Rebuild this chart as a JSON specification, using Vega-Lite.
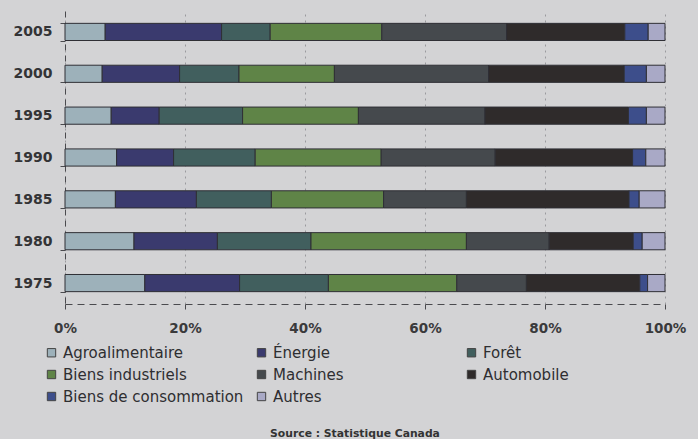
{
  "$schema": "https://vega.github.io/schema/vega-lite/v6.json",
  "width": 600,
  "height": 293,
  "autosize": {"type": "none"},
  "padding": {"left": 65, "top": 11, "right": 33, "bottom": 135},
  "background": "#d3d3d5",
  "config": {
    "view": {"stroke": null},
    "font": "DejaVu Sans"
  },
  "title": {
    "text": "Source : Statistique Canada",
    "orient": "bottom",
    "anchor": "middle",
    "fontSize": 10.8,
    "fontWeight": "bold",
    "font": "DejaVu Sans",
    "color": "#333333",
    "offset": 23,
    "dx": -10
  },
  "data": {
    "values": [
      {"annee": "2005", "secteur": "Agroalimentaire", "k": 1, "part": 6.7},
      {"annee": "2005", "secteur": "Énergie", "k": 2, "part": 19.4},
      {"annee": "2005", "secteur": "Forêt", "k": 3, "part": 8.1},
      {"annee": "2005", "secteur": "Biens industriels", "k": 4, "part": 18.6},
      {"annee": "2005", "secteur": "Machines", "k": 5, "part": 20.8},
      {"annee": "2005", "secteur": "Automobile", "k": 6, "part": 19.7},
      {"annee": "2005", "secteur": "Biens de consommation", "k": 7, "part": 3.9},
      {"annee": "2005", "secteur": "Autres", "k": 8, "part": 2.8},
      {"annee": "2000", "secteur": "Agroalimentaire", "k": 1, "part": 6.2},
      {"annee": "2000", "secteur": "Énergie", "k": 2, "part": 12.9},
      {"annee": "2000", "secteur": "Forêt", "k": 3, "part": 9.9},
      {"annee": "2000", "secteur": "Biens industriels", "k": 4, "part": 15.9},
      {"annee": "2000", "secteur": "Machines", "k": 5, "part": 25.7},
      {"annee": "2000", "secteur": "Automobile", "k": 6, "part": 22.6},
      {"annee": "2000", "secteur": "Biens de consommation", "k": 7, "part": 3.7},
      {"annee": "2000", "secteur": "Autres", "k": 8, "part": 3.1},
      {"annee": "1995", "secteur": "Agroalimentaire", "k": 1, "part": 7.7},
      {"annee": "1995", "secteur": "Énergie", "k": 2, "part": 8.0},
      {"annee": "1995", "secteur": "Forêt", "k": 3, "part": 13.9},
      {"annee": "1995", "secteur": "Biens industriels", "k": 4, "part": 19.3},
      {"annee": "1995", "secteur": "Machines", "k": 5, "part": 21.1},
      {"annee": "1995", "secteur": "Automobile", "k": 6, "part": 23.9},
      {"annee": "1995", "secteur": "Biens de consommation", "k": 7, "part": 3.0},
      {"annee": "1995", "secteur": "Autres", "k": 8, "part": 3.1},
      {"annee": "1990", "secteur": "Agroalimentaire", "k": 1, "part": 8.6},
      {"annee": "1990", "secteur": "Énergie", "k": 2, "part": 9.5},
      {"annee": "1990", "secteur": "Forêt", "k": 3, "part": 13.6},
      {"annee": "1990", "secteur": "Biens industriels", "k": 4, "part": 21.0},
      {"annee": "1990", "secteur": "Machines", "k": 5, "part": 19.0},
      {"annee": "1990", "secteur": "Automobile", "k": 6, "part": 22.9},
      {"annee": "1990", "secteur": "Biens de consommation", "k": 7, "part": 2.2},
      {"annee": "1990", "secteur": "Autres", "k": 8, "part": 3.2},
      {"annee": "1985", "secteur": "Agroalimentaire", "k": 1, "part": 8.4},
      {"annee": "1985", "secteur": "Énergie", "k": 2, "part": 13.5},
      {"annee": "1985", "secteur": "Forêt", "k": 3, "part": 12.5},
      {"annee": "1985", "secteur": "Biens industriels", "k": 4, "part": 18.7},
      {"annee": "1985", "secteur": "Machines", "k": 5, "part": 13.8},
      {"annee": "1985", "secteur": "Automobile", "k": 6, "part": 27.1},
      {"annee": "1985", "secteur": "Biens de consommation", "k": 7, "part": 1.7},
      {"annee": "1985", "secteur": "Autres", "k": 8, "part": 4.3},
      {"annee": "1980", "secteur": "Agroalimentaire", "k": 1, "part": 11.5},
      {"annee": "1980", "secteur": "Énergie", "k": 2, "part": 13.9},
      {"annee": "1980", "secteur": "Forêt", "k": 3, "part": 15.6},
      {"annee": "1980", "secteur": "Biens industriels", "k": 4, "part": 25.9},
      {"annee": "1980", "secteur": "Machines", "k": 5, "part": 13.8},
      {"annee": "1980", "secteur": "Automobile", "k": 6, "part": 14.0},
      {"annee": "1980", "secteur": "Biens de consommation", "k": 7, "part": 1.5},
      {"annee": "1980", "secteur": "Autres", "k": 8, "part": 3.8},
      {"annee": "1975", "secteur": "Agroalimentaire", "k": 1, "part": 13.3},
      {"annee": "1975", "secteur": "Énergie", "k": 2, "part": 15.8},
      {"annee": "1975", "secteur": "Forêt", "k": 3, "part": 14.8},
      {"annee": "1975", "secteur": "Biens industriels", "k": 4, "part": 21.4},
      {"annee": "1975", "secteur": "Machines", "k": 5, "part": 11.6},
      {"annee": "1975", "secteur": "Automobile", "k": 6, "part": 18.9},
      {"annee": "1975", "secteur": "Biens de consommation", "k": 7, "part": 1.3},
      {"annee": "1975", "secteur": "Autres", "k": 8, "part": 2.9}
    ]
  },
  "mark": {"type": "bar", "stroke": "#2f2f35", "strokeWidth": 1},
  "encoding": {
    "y": {
      "field": "annee",
      "type": "ordinal",
      "sort": "descending",
      "scale": {"paddingInner": 0.59, "paddingOuter": 0.295},
      "axis": {
        "title": null,
        "labelFont": "DejaVu Sans",
        "labelFontSize": 14,
        "labelFontWeight": "bold",
        "labelColor": "#333336",
        "labelPadding": 8,
        "tickBand": "extent",
        "tickSize": 5,
        "tickColor": "#4a4a4e",
        "domainColor": "#4a4a4e",
        "domainDash": [6, 5]
      }
    },
    "x": {
      "field": "part",
      "type": "quantitative",
      "stack": "normalize",
      "scale": {"domain": [0, 1]},
      "axis": {
        "title": null,
        "format": ".0%",
        "values": [0, 0.2, 0.4, 0.6, 0.8, 1],
        "labelFont": "DejaVu Sans",
        "labelFontSize": 13.5,
        "labelFontWeight": "bold",
        "labelColor": "#3a3a3c",
        "labelPadding": 12,
        "labelFlush": false,
        "tickSize": 5,
        "tickColor": "#4a4a4e",
        "domainColor": "#4a4a4e",
        "domainDash": [7, 5],
        "grid": true,
        "gridColor": "#9a9a9e",
        "gridDash": [2, 4],
        "gridWidth": 1
      }
    },
    "color": {
      "field": "secteur",
      "type": "nominal",
      "scale": {
        "domain": ["Agroalimentaire", "Énergie", "Forêt", "Biens industriels", "Machines", "Automobile", "Biens de consommation", "Autres"],
        "range": ["#9db1ba", "#3a3a6e", "#415f5e", "#5f8447", "#45494d", "#2f2b2b", "#3d4e8b", "#a9a9c6"]
      },
      "legend": {
        "title": null,
        "orient": "none",
        "direction": "horizontal",
        "legendX": -21,
        "legendY": 334,
        "columns": 3,
        "gridAlign": "all",
        "columnPadding": 10,
        "rowPadding": 6,
        "symbolType": "square",
        "symbolSize": 70,
        "symbolStrokeColor": "#444444",
        "symbolStrokeWidth": 1,
        "labelFont": "DejaVu Sans",
        "labelFontSize": 15,
        "labelColor": "#2e2e31",
        "labelOffset": 4,
        "labelLimit": 260
      }
    },
    "order": {"field": "k", "type": "quantitative", "sort": "ascending"}
  }
}
